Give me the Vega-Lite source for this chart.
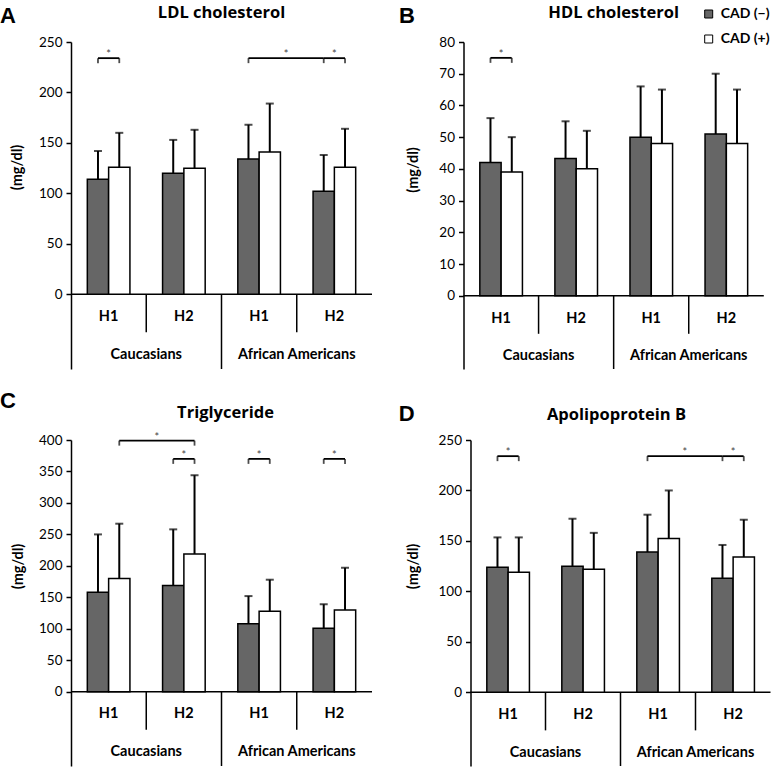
{
"$schema": "https://vega.github.io/schema/vega-lite/v6.json",
"background": "white",
"padding": {"left": 0, "top": 4, "right": 0, "bottom": 0},
"config": {
 "view": {"stroke": null},
 "title": {"font": "Open Sans", "fontSize": 16.5, "fontWeight": "bold", "color": "black", "anchor": "middle", "frame": "group"},
 "axisX": {"disable": true},
 "axisY": {"labelFont": "Lato", "labelFontSize": 13.5, "labelColor": "black", "labelPadding": 4, "tickSize": 5, "tickColor": "black", "tickWidth": 1.5, "domainColor": "black", "domainWidth": 1.5, "grid": false, "titleFont": "Lato", "titleFontSize": 14.5, "titleFontWeight": "bold", "titleColor": "black", "titleAngle": -90, "titleAlign": "center", "titleBaseline": "middle"},
 "legend": {"orient": "none", "legendX": 630.7, "legendY": -35, "title": null, "padding": 0, "symbolType": "square", "symbolSize": 64, "symbolStrokeColor": "black", "symbolStrokeWidth": 1, "labelFont": "Lato", "labelFontSize": 14, "labelFontWeight": "bold", "labelColor": "black", "labelOffset": 5, "rowPadding": 11},
 "text": {"font": "Lato", "color": "black"}
},
"datasets": {
 "one": [{"k": 1}],
 "groups": [{"grp": "Caucasians H1", "hap": "H1"}, {"grp": "Caucasians H2", "hap": "H2"}, {"grp": "African Americans H1", "hap": "H1"}, {"grp": "African Americans H2", "hap": "H2"}],
 "pops": [{"grp": "Caucasians H1", "pop": "Caucasians"}, {"grp": "African Americans H1", "pop": "African Americans"}],
 "seps_short": [{"grp": "Caucasians H2"}, {"grp": "African Americans H2"}],
 "seps_long": [{"grp": "African Americans H1"}],
 "A_bars": [
  {"grp": "Caucasians H1", "cad": "CAD (−)", "mean": 114, "upper": 142},
  {"grp": "Caucasians H1", "cad": "CAD (+)", "mean": 126, "upper": 160},
  {"grp": "Caucasians H2", "cad": "CAD (−)", "mean": 120, "upper": 153},
  {"grp": "Caucasians H2", "cad": "CAD (+)", "mean": 125, "upper": 163},
  {"grp": "African Americans H1", "cad": "CAD (−)", "mean": 134, "upper": 168},
  {"grp": "African Americans H1", "cad": "CAD (+)", "mean": 141, "upper": 189},
  {"grp": "African Americans H2", "cad": "CAD (−)", "mean": 102, "upper": 138},
  {"grp": "African Americans H2", "cad": "CAD (+)", "mean": 126, "upper": 164}],
 "A_pair": [{"grp": "Caucasians H1", "level": 234}, {"grp": "African Americans H2", "level": 234}],
 "A_long": [{"grp": "African Americans H1", "grp2": "African Americans H2", "level": 234}],
 "A_ends": [
  {"grp": "Caucasians H1", "cad": "CAD (−)", "level": 234},
  {"grp": "Caucasians H1", "cad": "CAD (+)", "level": 234},
  {"grp": "African Americans H1", "cad": "CAD (−)", "level": 234},
  {"grp": "African Americans H2", "cad": "CAD (−)", "level": 234},
  {"grp": "African Americans H2", "cad": "CAD (+)", "level": 234}],
 "B_bars": [
  {"grp": "Caucasians H1", "cad": "CAD (−)", "mean": 42, "upper": 56},
  {"grp": "Caucasians H1", "cad": "CAD (+)", "mean": 39, "upper": 50},
  {"grp": "Caucasians H2", "cad": "CAD (−)", "mean": 43.3, "upper": 55},
  {"grp": "Caucasians H2", "cad": "CAD (+)", "mean": 40, "upper": 52},
  {"grp": "African Americans H1", "cad": "CAD (−)", "mean": 50, "upper": 66},
  {"grp": "African Americans H1", "cad": "CAD (+)", "mean": 48, "upper": 65},
  {"grp": "African Americans H2", "cad": "CAD (−)", "mean": 51, "upper": 70},
  {"grp": "African Americans H2", "cad": "CAD (+)", "mean": 48, "upper": 65}],
 "B_pair": [{"grp": "Caucasians H1", "level": 75}],
 "B_ends": [
  {"grp": "Caucasians H1", "cad": "CAD (−)", "level": 75},
  {"grp": "Caucasians H1", "cad": "CAD (+)", "level": 75}],
 "C_bars": [
  {"grp": "Caucasians H1", "cad": "CAD (−)", "mean": 158, "upper": 250},
  {"grp": "Caucasians H1", "cad": "CAD (+)", "mean": 180, "upper": 267},
  {"grp": "Caucasians H2", "cad": "CAD (−)", "mean": 169, "upper": 258},
  {"grp": "Caucasians H2", "cad": "CAD (+)", "mean": 219, "upper": 344},
  {"grp": "African Americans H1", "cad": "CAD (−)", "mean": 108, "upper": 152},
  {"grp": "African Americans H1", "cad": "CAD (+)", "mean": 128, "upper": 178},
  {"grp": "African Americans H2", "cad": "CAD (−)", "mean": 101, "upper": 139},
  {"grp": "African Americans H2", "cad": "CAD (+)", "mean": 130, "upper": 197}],
 "C_pair": [{"grp": "Caucasians H2", "level": 370}, {"grp": "African Americans H1", "level": 370}, {"grp": "African Americans H2", "level": 370}],
 "C_long": [{"grp": "Caucasians H1", "grp2": "Caucasians H2", "level": 399}],
 "C_ends": [
  {"grp": "Caucasians H1", "cad": "CAD (+)", "level": 399},
  {"grp": "Caucasians H2", "cad": "CAD (+)", "level": 399},
  {"grp": "Caucasians H2", "cad": "CAD (−)", "level": 370},
  {"grp": "Caucasians H2", "cad": "CAD (+)", "level": 370},
  {"grp": "African Americans H1", "cad": "CAD (−)", "level": 370},
  {"grp": "African Americans H1", "cad": "CAD (+)", "level": 370},
  {"grp": "African Americans H2", "cad": "CAD (−)", "level": 370},
  {"grp": "African Americans H2", "cad": "CAD (+)", "level": 370}],
 "D_bars": [
  {"grp": "Caucasians H1", "cad": "CAD (−)", "mean": 124, "upper": 153.5},
  {"grp": "Caucasians H1", "cad": "CAD (+)", "mean": 119, "upper": 153.5},
  {"grp": "Caucasians H2", "cad": "CAD (−)", "mean": 125, "upper": 172},
  {"grp": "Caucasians H2", "cad": "CAD (+)", "mean": 122, "upper": 158},
  {"grp": "African Americans H1", "cad": "CAD (−)", "mean": 139, "upper": 176},
  {"grp": "African Americans H1", "cad": "CAD (+)", "mean": 152.5, "upper": 200},
  {"grp": "African Americans H2", "cad": "CAD (−)", "mean": 113, "upper": 146},
  {"grp": "African Americans H2", "cad": "CAD (+)", "mean": 134, "upper": 171}],
 "D_pair": [{"grp": "Caucasians H1", "level": 234}, {"grp": "African Americans H2", "level": 234}],
 "D_long": [{"grp": "African Americans H1", "grp2": "African Americans H2", "level": 234}],
 "D_ends": [
  {"grp": "Caucasians H1", "cad": "CAD (−)", "level": 234},
  {"grp": "Caucasians H1", "cad": "CAD (+)", "level": 234},
  {"grp": "African Americans H1", "cad": "CAD (−)", "level": 234},
  {"grp": "African Americans H2", "cad": "CAD (−)", "level": 234},
  {"grp": "African Americans H2", "cad": "CAD (+)", "level": 234}]
},
"spacing": 19,
"vconcat": [
 {"spacing": 25.5, "hconcat": [
  {"title": {"text": "A", "anchor": "start", "frame": "group", "dx": -71, "dy": 40.2, "offset": 0, "baseline": "alphabetic", "font": "Liberation Sans", "fontSize": 22, "fontWeight": "bold", "color": "black"},
   "spacing": 0,
   "vconcat": [{"width": 301, "height": 327,
    "title": {"text": "LDL cholesterol", "offset": 0.9, "baseline": "alphabetic"},
    "layer": [
     {"data": {"name": "one"}, "mark": {"type": "rule", "color": "black", "strokeWidth": 1.5}, "encoding": {"y": {"datum": 0}}},
     {"data": {"name": "seps_short"}, "mark": {"type": "rule", "color": "black", "strokeWidth": 1.5}, "encoding": {"x": {"field": "grp", "type": "nominal", "bandPosition": 0}, "y": {"datum": 0}, "y2": {"datum": -37.7}}},
     {"data": {"name": "seps_long"}, "mark": {"type": "rule", "color": "black", "strokeWidth": 1.5}, "encoding": {"x": {"field": "grp", "type": "nominal", "bandPosition": 0}, "y": {"datum": 0}, "y2": {"datum": -74}}},
     {"data": {"name": "groups"}, "mark": {"type": "text", "fontSize": 14.5, "fontWeight": "bold", "baseline": "middle"}, "encoding": {"x": {"field": "grp", "type": "nominal"}, "y": {"datum": -22.8}, "text": {"field": "hap"}}},
     {"data": {"name": "pops"}, "mark": {"type": "text", "fontSize": 14.5, "fontWeight": "bold", "baseline": "middle"}, "encoding": {"x": {"field": "grp", "type": "nominal", "bandPosition": 1}, "y": {"datum": -60.2}, "text": {"field": "pop"}}},
     {"data": {"name": "A_bars"}, "mark": {"type": "bar", "stroke": "black", "strokeWidth": 1.5},
      "encoding": {
       "x": {"field": "grp", "type": "nominal", "scale": {"domain": ["Caucasians H1", "Caucasians H2", "African Americans H1", "African Americans H2"], "paddingInner": 0, "paddingOuter": 0}},
       "xOffset": {"field": "cad", "type": "nominal", "scale": {"domain": ["CAD (−)", "CAD (+)"], "paddingInner": 0, "paddingOuter": 0.766}},
       "y": {"field": "mean", "type": "quantitative", "scale": {"domain": [-74, 250], "nice": false, "zero": false}, "axis": {"values": [0, 50, 100, 150, 200, 250], "title": "(mg/dl)", "titleX": -54, "titleY": 125}},
       "fill": {"field": "cad", "type": "nominal", "scale": {"domain": ["CAD (−)", "CAD (+)"], "range": ["#666666", "#ffffff"]}}}},
     {"data": {"name": "A_bars"}, "mark": {"type": "rule", "color": "black", "strokeWidth": 2}, "encoding": {"x": {"field": "grp", "type": "nominal"}, "xOffset": {"field": "cad", "type": "nominal"}, "y": {"field": "mean", "type": "quantitative"}, "y2": {"field": "upper"}}},
     {"data": {"name": "A_bars"}, "mark": {"type": "tick", "orient": "horizontal", "color": "black", "size": 8, "thickness": 2}, "encoding": {"x": {"field": "grp", "type": "nominal"}, "xOffset": {"field": "cad", "type": "nominal"}, "y": {"field": "upper", "type": "quantitative"}}},
     {"data": {"name": "A_pair"}, "mark": {"type": "rule", "color": "black", "strokeWidth": 1.8}, "encoding": {"x": {"field": "grp", "type": "nominal", "bandPosition": 0.3585}, "x2": {"field": "grp", "bandPosition": 0.6415}, "y": {"field": "level", "type": "quantitative"}}},
     {"data": {"name": "A_long"}, "mark": {"type": "rule", "color": "black", "strokeWidth": 1.8}, "encoding": {"x": {"field": "grp", "type": "nominal", "bandPosition": 0.3585}, "x2": {"field": "grp2", "bandPosition": 0.3585}, "y": {"field": "level", "type": "quantitative"}}},
     {"data": {"name": "A_ends"}, "mark": {"type": "tick", "orient": "vertical", "color": "black", "size": 5, "thickness": 1.8, "yOffset": 2.5}, "encoding": {"x": {"field": "grp", "type": "nominal"}, "xOffset": {"field": "cad", "type": "nominal"}, "y": {"field": "level", "type": "quantitative"}}},
     {"data": {"name": "A_pair"}, "mark": {"type": "text", "text": "*", "fontSize": 11, "color": "#444444", "baseline": "alphabetic"}, "encoding": {"x": {"field": "grp", "type": "nominal"}, "y": {"field": "level", "type": "quantitative"}}},
     {"data": {"name": "A_long"}, "mark": {"type": "text", "text": "*", "fontSize": 11, "color": "#444444", "baseline": "alphabetic"}, "encoding": {"x": {"field": "grp", "type": "nominal", "bandPosition": 0.8585}, "y": {"field": "level", "type": "quantitative"}}}
    ]}]},
  {"title": {"text": "B", "anchor": "start", "frame": "group", "dx": -64.4, "dy": 39.5, "offset": 0, "baseline": "alphabetic", "font": "Liberation Sans", "fontSize": 22, "fontWeight": "bold", "color": "black"},
   "spacing": 0,
   "vconcat": [{"width": 300.3, "height": 327,
    "title": {"text": "HDL cholesterol", "offset": 0.2, "baseline": "alphabetic"},
    "layer": [
     {"data": {"name": "one"}, "mark": {"type": "rule", "color": "black", "strokeWidth": 1.5}, "encoding": {"y": {"datum": 0}}},
     {"data": {"name": "seps_short"}, "mark": {"type": "rule", "color": "black", "strokeWidth": 1.5}, "encoding": {"x": {"field": "grp", "type": "nominal", "bandPosition": 0}, "y": {"datum": 0}, "y2": {"datum": -12}}},
     {"data": {"name": "seps_long"}, "mark": {"type": "rule", "color": "black", "strokeWidth": 1.5}, "encoding": {"x": {"field": "grp", "type": "nominal", "bandPosition": 0}, "y": {"datum": 0}, "y2": {"datum": -23.1}}},
     {"data": {"name": "groups"}, "mark": {"type": "text", "fontSize": 14.5, "fontWeight": "bold", "baseline": "middle"}, "encoding": {"x": {"field": "grp", "type": "nominal"}, "y": {"datum": -7.25}, "text": {"field": "hap"}}},
     {"data": {"name": "pops"}, "mark": {"type": "text", "fontSize": 14.5, "fontWeight": "bold", "baseline": "middle"}, "encoding": {"x": {"field": "grp", "type": "nominal", "bandPosition": 1}, "y": {"datum": -19.1}, "text": {"field": "pop"}}},
     {"data": {"name": "B_bars"}, "mark": {"type": "bar", "stroke": "black", "strokeWidth": 1.5},
      "encoding": {
       "x": {"field": "grp", "type": "nominal", "scale": {"domain": ["Caucasians H1", "Caucasians H2", "African Americans H1", "African Americans H2"], "paddingInner": 0, "paddingOuter": 0}},
       "xOffset": {"field": "cad", "type": "nominal", "scale": {"domain": ["CAD (−)", "CAD (+)"], "paddingInner": 0, "paddingOuter": 0.766}},
       "y": {"field": "mean", "type": "quantitative", "scale": {"domain": [-23.1, 80], "nice": false, "zero": false}, "axis": {"values": [0, 10, 20, 30, 40, 50, 60, 70, 80], "title": "(mg/dl)", "titleX": -50, "titleY": 127.5}},
       "fill": {"field": "cad", "type": "nominal", "scale": {"domain": ["CAD (−)", "CAD (+)"], "range": ["#666666", "#ffffff"]}}}},
     {"data": {"name": "B_bars"}, "mark": {"type": "rule", "color": "black", "strokeWidth": 2}, "encoding": {"x": {"field": "grp", "type": "nominal"}, "xOffset": {"field": "cad", "type": "nominal"}, "y": {"field": "mean", "type": "quantitative"}, "y2": {"field": "upper"}}},
     {"data": {"name": "B_bars"}, "mark": {"type": "tick", "orient": "horizontal", "color": "black", "size": 8, "thickness": 2}, "encoding": {"x": {"field": "grp", "type": "nominal"}, "xOffset": {"field": "cad", "type": "nominal"}, "y": {"field": "upper", "type": "quantitative"}}},
     {"data": {"name": "B_pair"}, "mark": {"type": "rule", "color": "black", "strokeWidth": 1.8}, "encoding": {"x": {"field": "grp", "type": "nominal", "bandPosition": 0.3585}, "x2": {"field": "grp", "bandPosition": 0.6415}, "y": {"field": "level", "type": "quantitative"}}},
     {"data": {"name": "B_ends"}, "mark": {"type": "tick", "orient": "vertical", "color": "black", "size": 5, "thickness": 1.8, "yOffset": 2.5}, "encoding": {"x": {"field": "grp", "type": "nominal"}, "xOffset": {"field": "cad", "type": "nominal"}, "y": {"field": "level", "type": "quantitative"}}},
     {"data": {"name": "B_pair"}, "mark": {"type": "text", "text": "*", "fontSize": 11, "color": "#444444", "baseline": "alphabetic"}, "encoding": {"x": {"field": "grp", "type": "nominal"}, "y": {"field": "level", "type": "quantitative"}}}
    ]}]}
 ]},
 {"spacing": 25.5, "hconcat": [
  {"title": {"text": "C", "anchor": "start", "frame": "group", "dx": -71, "dy": 24.4, "offset": 0, "baseline": "alphabetic", "font": "Liberation Sans", "fontSize": 22, "fontWeight": "bold", "color": "black"},
   "spacing": 0,
   "vconcat": [{"width": 301, "height": 326,
    "title": {"text": "Triglyceride", "offset": -3.2, "dx": 4, "baseline": "alphabetic"},
    "layer": [
     {"data": {"name": "one"}, "mark": {"type": "rule", "color": "black", "strokeWidth": 1.5}, "encoding": {"y": {"datum": 0}}},
     {"data": {"name": "seps_short"}, "mark": {"type": "rule", "color": "black", "strokeWidth": 1.5}, "encoding": {"x": {"field": "grp", "type": "nominal", "bandPosition": 0}, "y": {"datum": 0}, "y2": {"datum": -60.4}}},
     {"data": {"name": "seps_long"}, "mark": {"type": "rule", "color": "black", "strokeWidth": 1.5}, "encoding": {"x": {"field": "grp", "type": "nominal", "bandPosition": 0}, "y": {"datum": 0}, "y2": {"datum": -118}}},
     {"data": {"name": "groups"}, "mark": {"type": "text", "fontSize": 14.5, "fontWeight": "bold", "baseline": "middle"}, "encoding": {"x": {"field": "grp", "type": "nominal"}, "y": {"datum": -36}, "text": {"field": "hap"}}},
     {"data": {"name": "pops"}, "mark": {"type": "text", "fontSize": 14.5, "fontWeight": "bold", "baseline": "middle"}, "encoding": {"x": {"field": "grp", "type": "nominal", "bandPosition": 1}, "y": {"datum": -95.5}, "text": {"field": "pop"}}},
     {"data": {"name": "C_bars"}, "mark": {"type": "bar", "stroke": "black", "strokeWidth": 1.5},
      "encoding": {
       "x": {"field": "grp", "type": "nominal", "scale": {"domain": ["Caucasians H1", "Caucasians H2", "African Americans H1", "African Americans H2"], "paddingInner": 0, "paddingOuter": 0}},
       "xOffset": {"field": "cad", "type": "nominal", "scale": {"domain": ["CAD (−)", "CAD (+)"], "paddingInner": 0, "paddingOuter": 0.766}},
       "y": {"field": "mean", "type": "quantitative", "scale": {"domain": [-118, 400], "nice": false, "zero": false}, "axis": {"values": [0, 50, 100, 150, 200, 250, 300, 350, 400], "title": "(mg/dl)", "titleX": -53, "titleY": 126}},
       "fill": {"field": "cad", "type": "nominal", "scale": {"domain": ["CAD (−)", "CAD (+)"], "range": ["#666666", "#ffffff"]}}}},
     {"data": {"name": "C_bars"}, "mark": {"type": "rule", "color": "black", "strokeWidth": 2}, "encoding": {"x": {"field": "grp", "type": "nominal"}, "xOffset": {"field": "cad", "type": "nominal"}, "y": {"field": "mean", "type": "quantitative"}, "y2": {"field": "upper"}}},
     {"data": {"name": "C_bars"}, "mark": {"type": "tick", "orient": "horizontal", "color": "black", "size": 8, "thickness": 2}, "encoding": {"x": {"field": "grp", "type": "nominal"}, "xOffset": {"field": "cad", "type": "nominal"}, "y": {"field": "upper", "type": "quantitative"}}},
     {"data": {"name": "C_pair"}, "mark": {"type": "rule", "color": "black", "strokeWidth": 1.8}, "encoding": {"x": {"field": "grp", "type": "nominal", "bandPosition": 0.3585}, "x2": {"field": "grp", "bandPosition": 0.6415}, "y": {"field": "level", "type": "quantitative"}}},
     {"data": {"name": "C_long"}, "mark": {"type": "rule", "color": "black", "strokeWidth": 1.8}, "encoding": {"x": {"field": "grp", "type": "nominal", "bandPosition": 0.6415}, "x2": {"field": "grp2", "bandPosition": 0.6415}, "y": {"field": "level", "type": "quantitative"}}},
     {"data": {"name": "C_ends"}, "mark": {"type": "tick", "orient": "vertical", "color": "black", "size": 5, "thickness": 1.8, "yOffset": 2.5}, "encoding": {"x": {"field": "grp", "type": "nominal"}, "xOffset": {"field": "cad", "type": "nominal"}, "y": {"field": "level", "type": "quantitative"}}},
     {"data": {"name": "C_pair"}, "mark": {"type": "text", "text": "*", "fontSize": 11, "color": "#444444", "baseline": "alphabetic"}, "encoding": {"x": {"field": "grp", "type": "nominal"}, "y": {"field": "level", "type": "quantitative"}}},
     {"data": {"name": "C_long"}, "mark": {"type": "text", "text": "*", "fontSize": 11, "color": "#444444", "baseline": "alphabetic"}, "encoding": {"x": {"field": "grp", "type": "nominal", "bandPosition": 1.1415}, "y": {"field": "level", "type": "quantitative"}}}
    ]}]},
  {"title": {"text": "D", "anchor": "start", "frame": "group", "dx": -71.7, "dy": 36.7, "offset": 0, "baseline": "alphabetic", "font": "Liberation Sans", "fontSize": 22, "fontWeight": "bold", "color": "black"},
   "spacing": 0,
   "vconcat": [{"width": 300, "height": 326,
    "title": {"text": "Apolipoprotein B", "offset": -3.2, "dx": -4, "baseline": "alphabetic"},
    "layer": [
     {"data": {"name": "one"}, "mark": {"type": "rule", "color": "black", "strokeWidth": 1.5}, "encoding": {"y": {"datum": 0}}},
     {"data": {"name": "seps_short"}, "mark": {"type": "rule", "color": "black", "strokeWidth": 1.5}, "encoding": {"x": {"field": "grp", "type": "nominal", "bandPosition": 0}, "y": {"datum": 0}, "y2": {"datum": -37.7}}},
     {"data": {"name": "seps_long"}, "mark": {"type": "rule", "color": "black", "strokeWidth": 1.5}, "encoding": {"x": {"field": "grp", "type": "nominal", "bandPosition": 0}, "y": {"datum": 0}, "y2": {"datum": -73}}},
     {"data": {"name": "groups"}, "mark": {"type": "text", "fontSize": 14.5, "fontWeight": "bold", "baseline": "middle"}, "encoding": {"x": {"field": "grp", "type": "nominal"}, "y": {"datum": -22.8}, "text": {"field": "hap"}}},
     {"data": {"name": "pops"}, "mark": {"type": "text", "fontSize": 14.5, "fontWeight": "bold", "baseline": "middle"}, "encoding": {"x": {"field": "grp", "type": "nominal", "bandPosition": 1}, "y": {"datum": -60.2}, "text": {"field": "pop"}}},
     {"data": {"name": "D_bars"}, "mark": {"type": "bar", "stroke": "black", "strokeWidth": 1.5},
      "encoding": {
       "x": {"field": "grp", "type": "nominal", "scale": {"domain": ["Caucasians H1", "Caucasians H2", "African Americans H1", "African Americans H2"], "paddingInner": 0, "paddingOuter": 0}},
       "xOffset": {"field": "cad", "type": "nominal", "scale": {"domain": ["CAD (−)", "CAD (+)"], "paddingInner": 0, "paddingOuter": 0.766}},
       "y": {"field": "mean", "type": "quantitative", "scale": {"domain": [-73, 250], "nice": false, "zero": false}, "axis": {"values": [0, 50, 100, 150, 200, 250], "title": "(mg/dl)", "titleX": -57.5, "titleY": 126}},
       "fill": {"field": "cad", "type": "nominal", "scale": {"domain": ["CAD (−)", "CAD (+)"], "range": ["#666666", "#ffffff"]}}}},
     {"data": {"name": "D_bars"}, "mark": {"type": "rule", "color": "black", "strokeWidth": 2}, "encoding": {"x": {"field": "grp", "type": "nominal"}, "xOffset": {"field": "cad", "type": "nominal"}, "y": {"field": "mean", "type": "quantitative"}, "y2": {"field": "upper"}}},
     {"data": {"name": "D_bars"}, "mark": {"type": "tick", "orient": "horizontal", "color": "black", "size": 8, "thickness": 2}, "encoding": {"x": {"field": "grp", "type": "nominal"}, "xOffset": {"field": "cad", "type": "nominal"}, "y": {"field": "upper", "type": "quantitative"}}},
     {"data": {"name": "D_pair"}, "mark": {"type": "rule", "color": "black", "strokeWidth": 1.8}, "encoding": {"x": {"field": "grp", "type": "nominal", "bandPosition": 0.3585}, "x2": {"field": "grp", "bandPosition": 0.6415}, "y": {"field": "level", "type": "quantitative"}}},
     {"data": {"name": "D_long"}, "mark": {"type": "rule", "color": "black", "strokeWidth": 1.8}, "encoding": {"x": {"field": "grp", "type": "nominal", "bandPosition": 0.3585}, "x2": {"field": "grp2", "bandPosition": 0.3585}, "y": {"field": "level", "type": "quantitative"}}},
     {"data": {"name": "D_ends"}, "mark": {"type": "tick", "orient": "vertical", "color": "black", "size": 5, "thickness": 1.8, "yOffset": 2.5}, "encoding": {"x": {"field": "grp", "type": "nominal"}, "xOffset": {"field": "cad", "type": "nominal"}, "y": {"field": "level", "type": "quantitative"}}},
     {"data": {"name": "D_pair"}, "mark": {"type": "text", "text": "*", "fontSize": 11, "color": "#444444", "baseline": "alphabetic"}, "encoding": {"x": {"field": "grp", "type": "nominal"}, "y": {"field": "level", "type": "quantitative"}}},
     {"data": {"name": "D_long"}, "mark": {"type": "text", "text": "*", "fontSize": 11, "color": "#444444", "baseline": "alphabetic"}, "encoding": {"x": {"field": "grp", "type": "nominal", "bandPosition": 0.8585}, "y": {"field": "level", "type": "quantitative"}}}
    ]}]}
 ]}
]
}
